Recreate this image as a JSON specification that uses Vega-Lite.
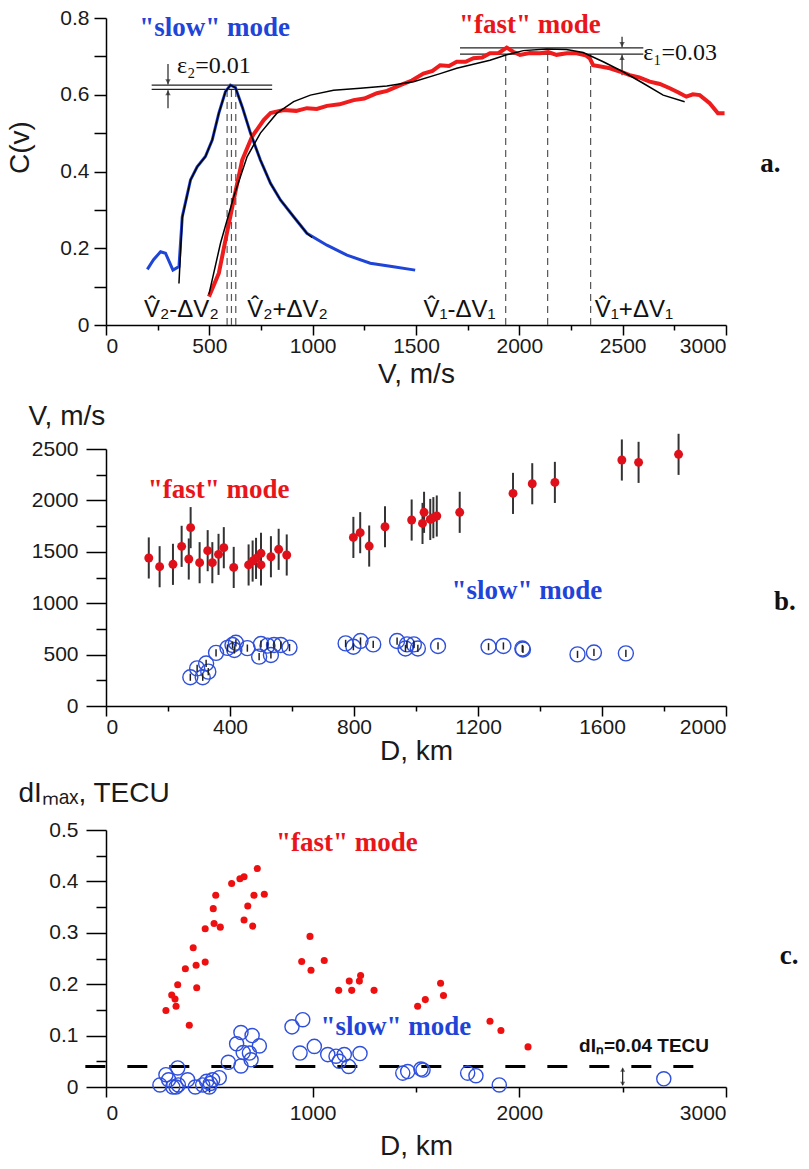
{
  "$schema": "https://vega.github.io/schema/vega-lite/v6.json",
  "padding": {"left": 6, "top": 7, "right": 0, "bottom": 0},
  "background": "white",
  "config": {
    "view": {"stroke": null},
    "axis": {"domainColor": "#000", "tickColor": "#000", "labelColor": "#1a1a1a", "titleColor": "#1a1a1a", "labelFont": "Liberation Sans", "titleFont": "Liberation Sans", "labelFontSize": 21, "titleFontSize": 28, "titleFontWeight": "normal", "grid": false, "domainWidth": 1.5, "tickWidth": 1.5}
  },
  "spacing": 124,
  "bounds": "flush",
  "vconcat": [
    {
      "width": 620, "height": 307,
      "encoding": {
        "x": {"field": "V", "type": "quantitative", "scale": {"domain": [0, 3000], "nice": false, "zero": false},
          "axis": {"title": "V, m/s", "values": [0,250,500,750,1000,1250,1500,1750,2000,2250,2500,2750,3000], "format": "d", "labelExpr": "datum.value % 500 === 0 ? datum.label : ''", "tickSize": {"condition": {"test": "datum.value % 500 === 0", "value": 10}, "value": 5}, "labelPadding": 0, "titleY": 57, "titleBaseline": "alphabetic"}},
        "y": {"field": "C", "type": "quantitative", "scale": {"domain": [0, 0.8], "nice": false},
          "axis": {"title": "C(v)", "values": [0,0.1,0.2,0.3,0.4,0.5,0.6,0.7,0.8], "labelExpr": "round(datum.value*10) % 2 === 0 ? (datum.value === 0 ? '0' : format(datum.value, '.1f')) : ''", "tickSize": 12, "labelPadding": 5, "titleX": -72, "titleY": 129}}
      },
      "layer": [
        {
          "data": {"values": [
            {"V": 586, "C": 0, "C2": 0.62}, {"V": 607, "C": 0, "C2": 0.62}, {"V": 628, "C": 0, "C2": 0.62},
            {"V": 1934, "C": 0, "C2": 0.706}, {"V": 2137, "C": 0, "C2": 0.706}, {"V": 2345, "C": 0, "C2": 0.706}
          ]},
          "mark": {"type": "rule", "color": "#555", "strokeDash": [7, 5], "strokeWidth": 1.2},
          "encoding": {"y2": {"field": "C2"}}
        },
        {
          "data": {"values": [
            {"V": 221, "V2": 804, "C": 0.625}, {"V": 221, "V2": 804, "C": 0.614},
            {"V": 1713, "V2": 2600, "C": 0.722}, {"V": 1713, "V2": 2600, "C": 0.706}
          ]},
          "mark": {"type": "rule", "color": "#222", "strokeWidth": 1.2},
          "encoding": {"x2": {"field": "V2"}}
        },
        {
          "data": {"values": [
            {"V": 300, "C": 0.68, "C2": 0.627}, {"V": 300, "C": 0.565, "C2": 0.612},
            {"V": 2497, "C": 0.751, "C2": 0.724}, {"V": 2497, "C": 0.651, "C2": 0.704}
          ]},
          "mark": {"type": "rule", "color": "#222", "strokeWidth": 1.2},
          "encoding": {"y2": {"field": "C2"}}
        },
        {
          "data": {"values": [
            {"V": 300, "C": 0.634, "s": "triangle-down"}, {"V": 300, "C": 0.605, "s": "triangle-up"},
            {"V": 2497, "C": 0.731, "s": "triangle-down"}, {"V": 2497, "C": 0.697, "s": "triangle-up"}
          ]},
          "mark": {"type": "point", "filled": true, "color": "#222", "size": 30},
          "encoding": {"shape": {"field": "s", "type": "nominal", "scale": null}}
        },
        {
          "data": {"values": [
            {"V":200,"C":0.145},{"V":230,"C":0.17},{"V":264,"C":0.191},{"V":288,"C":0.187},{"V":324,"C":0.143},{"V":353,"C":0.152},{"V":369,"C":0.282},{"V":409,"C":0.378},{"V":441,"C":0.412},{"V":481,"C":0.439},{"V":514,"C":0.482},{"V":546,"C":0.552},{"V":578,"C":0.608},{"V":602,"C":0.625},{"V":626,"C":0.619},{"V":659,"C":0.569},{"V":699,"C":0.5},{"V":747,"C":0.43},{"V":796,"C":0.369},{"V":844,"C":0.326},{"V":908,"C":0.282},{"V":972,"C":0.239},{"V":1069,"C":0.208},{"V":1166,"C":0.182},{"V":1279,"C":0.161},{"V":1391,"C":0.152},{"V":1496,"C":0.143}
          ]},
          "mark": {"type": "line", "color": "#1f45d8", "strokeWidth": 3}
        },
        {
          "data": {"values": [
            {"V":498,"C":0.074},{"V":546,"C":0.135},{"V":578,"C":0.221},{"V":618,"C":0.326},{"V":659,"C":0.43},{"V":707,"C":0.491},{"V":763,"C":0.534},{"V":796,"C":0.552},{"V":860,"C":0.56},{"V":920,"C":0.558},{"V":972,"C":0.565},{"V":1020,"C":0.563},{"V":1069,"C":0.571},{"V":1130,"C":0.575},{"V":1198,"C":0.586},{"V":1250,"C":0.59},{"V":1311,"C":0.604},{"V":1360,"C":0.61},{"V":1424,"C":0.625},{"V":1480,"C":0.637},{"V":1536,"C":0.655},{"V":1580,"C":0.662},{"V":1617,"C":0.677},{"V":1660,"C":0.675},{"V":1697,"C":0.686},{"V":1740,"C":0.686},{"V":1778,"C":0.695},{"V":1820,"C":0.697},{"V":1858,"C":0.708},{"V":1900,"C":0.709},{"V":1939,"C":0.723},{"V":1970,"C":0.712},{"V":2003,"C":0.704},{"V":2050,"C":0.709},{"V":2100,"C":0.708},{"V":2140,"C":0.711},{"V":2180,"C":0.704},{"V":2230,"C":0.708},{"V":2277,"C":0.708},{"V":2320,"C":0.703},{"V":2341,"C":0.695},{"V":2357,"C":0.677},{"V":2400,"C":0.673},{"V":2438,"C":0.669},{"V":2490,"C":0.66},{"V":2534,"C":0.651},{"V":2580,"C":0.645},{"V":2631,"C":0.634},{"V":2680,"C":0.628},{"V":2728,"C":0.617},{"V":2770,"C":0.606},{"V":2808,"C":0.595},{"V":2840,"C":0.601},{"V":2873,"C":0.599},{"V":2921,"C":0.578},{"V":2961,"C":0.552},{"V":2993,"C":0.552}
          ]},
          "mark": {"type": "line", "color": "#ee1c1c", "strokeWidth": 4}
        },
        {
          "data": {"values": [
            {"k":"s","V":353,"C":0.108},{"k":"s","V":369,"C":0.28},{"k":"s","V":409,"C":0.378},{"k":"s","V":441,"C":0.412},{"k":"s","V":481,"C":0.439},{"k":"s","V":514,"C":0.482},{"k":"s","V":546,"C":0.552},{"k":"s","V":578,"C":0.608},{"k":"s","V":602,"C":0.625},{"k":"s","V":626,"C":0.619},{"k":"s","V":659,"C":0.569},{"k":"s","V":699,"C":0.5},{"k":"s","V":747,"C":0.43},{"k":"s","V":796,"C":0.369},{"k":"s","V":844,"C":0.326},{"k":"s","V":908,"C":0.282},{"k":"s","V":972,"C":0.239},{"k":"s","V":997,"C":0.228},
            {"k":"f","V":498,"C":0.08},{"k":"f","V":554,"C":0.213},{"k":"f","V":618,"C":0.334},{"k":"f","V":683,"C":0.439},{"k":"f","V":747,"C":0.5},{"k":"f","V":827,"C":0.552},{"k":"f","V":908,"C":0.582},{"k":"f","V":989,"C":0.599},{"k":"f","V":1101,"C":0.612},{"k":"f","V":1230,"C":0.617},{"k":"f","V":1359,"C":0.623},{"k":"f","V":1488,"C":0.634},{"k":"f","V":1617,"C":0.655},{"k":"f","V":1697,"C":0.669},{"k":"f","V":1858,"C":0.69},{"k":"f","V":1939,"C":0.704},{"k":"f","V":2019,"C":0.715},{"k":"f","V":2132,"C":0.719},{"k":"f","V":2228,"C":0.718},{"k":"f","V":2309,"C":0.71},{"k":"f","V":2406,"C":0.686},{"k":"f","V":2502,"C":0.66},{"k":"f","V":2599,"C":0.63},{"k":"f","V":2696,"C":0.599},{"k":"f","V":2800,"C":0.582}
          ]},
          "mark": {"type": "line", "color": "#000", "strokeWidth": 1.5},
          "encoding": {"detail": {"field": "k"}}
        },
        {
          "data": {"values": [
            {"V": 184, "C": 0.021, "t": "V\u0302\u2082-\u0394V\u2082"},
            {"V": 683, "C": 0.021, "t": "V\u0302\u2082+\u0394V\u2082"},
            {"V": 1536, "C": 0.021, "t": "V\u0302\u2081-\u0394V\u2081"},
            {"V": 2365, "C": 0.021, "t": "V\u0302\u2081+\u0394V\u2081"}
          ]},
          "mark": {"type": "text", "align": "left", "baseline": "alphabetic", "font": "Liberation Sans", "fontSize": 24, "color": "#111"},
          "encoding": {"text": {"field": "t"}}
        },
        {
          "data": {"values": [
            {"V": 343, "C": 0.656, "t": "\u03b5\u2082=0.01"},
            {"V": 2599, "C": 0.69, "t": "\u03b5\u2081=0.03"}
          ]},
          "mark": {"type": "text", "align": "left", "baseline": "alphabetic", "font": "Liberation Serif", "fontSize": 24, "color": "#111"},
          "encoding": {"text": {"field": "t"}}
        },
        {
          "data": {"values": [
            {"V": 526, "C": 0.753, "t": "\"slow\" mode", "c": "#1f45d8"},
            {"V": 2051, "C": 0.762, "t": "\"fast\" mode", "c": "#e8151b"},
            {"V": 3215, "C": 0.4, "t": "a.", "c": "#111"}
          ]},
          "mark": {"type": "text", "align": "center", "baseline": "alphabetic", "font": "Liberation Serif", "fontWeight": "bold", "fontSize": 27},
          "encoding": {"text": {"field": "t"}, "color": {"field": "c", "type": "nominal", "scale": null}}
        }
      ]
    },
    {
      "width": 620, "height": 257,
      "encoding": {
        "x": {"field": "D", "type": "quantitative", "scale": {"domain": [0, 2000], "nice": false, "zero": false},
          "axis": {"title": "D, km", "values": [0,200,400,600,800,1000,1200,1400,1600,1800,2000], "format": "d", "labelExpr": "datum.value % 400 === 0 ? datum.label : ''", "tickSize": {"condition": {"test": "datum.value % 400 === 0", "value": 10}, "value": 5}, "labelPadding": 0, "titleY": 53, "titleBaseline": "alphabetic"}},
        "y": {"field": "v", "type": "quantitative", "scale": {"domain": [0, 2500], "nice": false},
          "axis": {"title": "V, m/s", "values": [0,250,500,750,1000,1250,1500,1750,2000,2250,2500], "format": "d", "labelExpr": "datum.value % 500 === 0 ? datum.label : ''", "tickSize": {"condition": {"test": "datum.value % 500 === 0", "value": 20}, "value": 10}, "labelPadding": 8, "titleAngle": 0, "titleAlign": "left", "titleBaseline": "alphabetic", "titleX": -78, "titleY": -25}}
      },
      "layer": [
        {
          "data": {"name": "fastB"},
          "mark": {"type": "errorbar", "ticks": false, "color": "#333", "thickness": 2},
          "encoding": {"yError": {"field": "e"}}
        },
        {
          "data": {"name": "fastB"},
          "mark": {"type": "point", "filled": true, "color": "#e0101a", "size": 80, "opacity": 1}
        },
        {
          "data": {"name": "slowB"},
          "mark": {"type": "point", "filled": false, "color": "#3050d8", "size": 225, "strokeWidth": 1.4, "opacity": 1}
        },
        {
          "data": {"name": "slowB"},
          "mark": {"type": "errorbar", "ticks": false, "color": "#222", "thickness": 1.5},
          "encoding": {"yError": {"field": "e"}}
        },
        {
          "data": {"values": [
            {"D": 363, "v": 2026, "t": "\"fast\" mode", "c": "#e8151b"},
            {"D": 1358, "v": 1037, "t": "\"slow\" mode", "c": "#1f45d8"},
            {"D": 2190, "v": 930, "t": "b.", "c": "#111"}
          ]},
          "mark": {"type": "text", "align": "center", "baseline": "alphabetic", "font": "Liberation Serif", "fontWeight": "bold", "fontSize": 27},
          "encoding": {"text": {"field": "t"}, "color": {"field": "c", "type": "nominal", "scale": null}}
        }
      ]
    },
    {
      "width": 620, "height": 257,
      "encoding": {
        "x": {"field": "D", "type": "quantitative", "scale": {"domain": [0, 3000], "nice": false, "zero": false},
          "axis": {"title": "D, km", "values": [0,500,1000,1500,2000,2500,3000], "format": "d", "labelExpr": "datum.value % 1000 === 0 ? datum.label : ''", "tickSize": {"condition": {"test": "datum.value % 1000 === 0", "value": 10}, "value": 5}, "labelPadding": 5, "titleY": 67, "titleBaseline": "alphabetic"}},
        "y": {"field": "I", "type": "quantitative", "scale": {"domain": [0, 0.5], "nice": false},
          "axis": {"title": "dI\u2098\u2090\u2093, TECU", "values": [0,0.05,0.1,0.15,0.2,0.25,0.3,0.35,0.4,0.45,0.5], "labelExpr": "round(datum.value*100) % 10 === 0 ? (datum.value === 0 ? '0' : format(datum.value, '.1f')) : ''", "tickSize": {"condition": {"test": "round(datum.value*100) % 10 === 0", "value": 20}, "value": 10}, "labelPadding": 8, "titleAngle": 0, "titleAlign": "left", "titleBaseline": "alphabetic", "titleX": -88, "titleY": -29}}
      },
      "layer": [
        {
          "data": {"values": [{"D": -100, "D2": 2900, "I": 0.04}]},
          "mark": {"type": "rule", "color": "#000", "strokeWidth": 3, "strokeDash": [20, 22]},
          "encoding": {"x2": {"field": "D2"}}
        },
        {
          "data": {"values": [{"D": 2500, "I": 0.004, "I2": 0.036}]},
          "mark": {"type": "rule", "color": "#222", "strokeWidth": 1.2},
          "encoding": {"y2": {"field": "I2"}}
        },
        {
          "data": {"values": [{"D": 2500, "I": 0.034, "s": "triangle-up"}, {"D": 2500, "I": 0.006, "s": "triangle-down"}]},
          "mark": {"type": "point", "filled": true, "color": "#222", "size": 25},
          "encoding": {"shape": {"field": "s", "type": "nominal", "scale": null}}
        },
        {
          "data": {"name": "fastC"},
          "mark": {"type": "point", "filled": true, "color": "#ee1010", "size": 50, "opacity": 1}
        },
        {
          "data": {"name": "slowC"},
          "mark": {"type": "point", "filled": false, "color": "#2f50dc", "size": 200, "strokeWidth": 1.4, "opacity": 1}
        },
        {
          "data": {"values": [
            {"D": 1166, "I": 0.459, "t": "\"fast\" mode", "c": "#e8151b"},
            {"D": 1403, "I": 0.102, "t": "\"slow\" mode", "c": "#1f45d8"},
            {"D": 3305, "I": 0.24, "t": "c.", "c": "#111"}
          ]},
          "mark": {"type": "text", "align": "center", "baseline": "alphabetic", "font": "Liberation Serif", "fontWeight": "bold", "fontSize": 27},
          "encoding": {"text": {"field": "t"}, "color": {"field": "c", "type": "nominal", "scale": null}}
        },
        {
          "data": {"values": [{"D": 2289, "I": 0.069, "t": "dI\u2099=0.04 TECU"}]},
          "mark": {"type": "text", "align": "left", "baseline": "alphabetic", "font": "Liberation Sans", "fontWeight": "bold", "fontSize": 19, "color": "#111"},
          "encoding": {"text": {"field": "t"}}
        }
      ]
    }
  ],
  "datasets": {
    "fastB": [
      {"D":138,"v":1440,"e":200},{"D":173,"v":1355,"e":200},{"D":216,"v":1378,"e":200},{"D":244,"v":1553,"e":200},{"D":273,"v":1735,"e":200},{"D":267,"v":1430,"e":200},{"D":302,"v":1394,"e":200},{"D":328,"v":1511,"e":200},{"D":343,"v":1394,"e":200},{"D":363,"v":1475,"e":200},{"D":380,"v":1540,"e":200},{"D":412,"v":1348,"e":200},{"D":460,"v":1372,"e":200},{"D":473,"v":1410,"e":200},{"D":484,"v":1436,"e":200},{"D":500,"v":1485,"e":200},{"D":500,"v":1372,"e":200},{"D":532,"v":1452,"e":200},{"D":557,"v":1524,"e":200},{"D":583,"v":1469,"e":200},{"D":798,"v":1640,"e":200},{"D":820,"v":1686,"e":200},{"D":849,"v":1556,"e":200},{"D":900,"v":1744,"e":200},{"D":986,"v":1809,"e":200},{"D":1021,"v":1776,"e":200},{"D":1026,"v":1884,"e":200},{"D":1046,"v":1815,"e":200},{"D":1056,"v":1832,"e":200},{"D":1067,"v":1848,"e":200},{"D":1141,"v":1884,"e":200},{"D":1313,"v":2068,"e":200},{"D":1375,"v":2162,"e":200},{"D":1448,"v":2175,"e":200},{"D":1664,"v":2393,"e":200},{"D":1718,"v":2370,"e":200},{"D":1847,"v":2448,"e":200}
    ],
    "slowB": [
      {"D":272,"v":280,"e":35},{"D":294,"v":366,"e":35},{"D":312,"v":280,"e":35},{"D":323,"v":414,"e":35},{"D":330,"v":334,"e":35},{"D":355,"v":517,"e":35},{"D":392,"v":565,"e":35},{"D":408,"v":593,"e":35},{"D":419,"v":615,"e":35},{"D":414,"v":545,"e":35},{"D":456,"v":563,"e":35},{"D":500,"v":603,"e":35},{"D":494,"v":480,"e":35},{"D":521,"v":587,"e":35},{"D":532,"v":496,"e":35},{"D":542,"v":593,"e":35},{"D":564,"v":593,"e":35},{"D":592,"v":568,"e":35},{"D":773,"v":609,"e":35},{"D":798,"v":577,"e":35},{"D":821,"v":632,"e":35},{"D":862,"v":599,"e":35},{"D":939,"v":632,"e":35},{"D":966,"v":560,"e":35},{"D":971,"v":599,"e":35},{"D":993,"v":599,"e":35},{"D":1006,"v":560,"e":35},{"D":1071,"v":584,"e":35},{"D":1234,"v":577,"e":35},{"D":1282,"v":584,"e":35},{"D":1343,"v":560,"e":35},{"D":1345,"v":550,"e":35},{"D":1521,"v":502,"e":35},{"D":1574,"v":521,"e":35},{"D":1677,"v":512,"e":35}
    ],
    "fastC": [
      {"D":290,"I":0.149},{"D":318,"I":0.179},{"D":334,"I":0.171},{"D":339,"I":0.157},{"D":347,"I":0.199},{"D":403,"I":0.12},{"D":384,"I":0.23},{"D":422,"I":0.271},{"D":436,"I":0.237},{"D":439,"I":0.193},{"D":480,"I":0.243},{"D":480,"I":0.308},{"D":519,"I":0.347},{"D":531,"I":0.373},{"D":523,"I":0.318},{"D":553,"I":0.311},{"D":608,"I":0.396},{"D":648,"I":0.405},{"D":668,"I":0.409},{"D":732,"I":0.425},{"D":668,"I":0.325},{"D":686,"I":0.352},{"D":710,"I":0.313},{"D":716,"I":0.373},{"D":766,"I":0.375},{"D":987,"I":0.293},{"D":947,"I":0.244},{"D":992,"I":0.227},{"D":1056,"I":0.246},{"D":1126,"I":0.188},{"D":1177,"I":0.206},{"D":1189,"I":0.188},{"D":1226,"I":0.206},{"D":1232,"I":0.217},{"D":1297,"I":0.188},{"D":1508,"I":0.157},{"D":1545,"I":0.17},{"D":1619,"I":0.202},{"D":1633,"I":0.178},{"D":1858,"I":0.128},{"D":1911,"I":0.11},{"D":2042,"I":0.078}
    ],
    "slowC": [
      {"D":261,"I":0.004},{"D":290,"I":0.024},{"D":303,"I":0.014},{"D":347,"I":0.037},{"D":323,"I":0.0},{"D":339,"I":0.0},{"D":350,"I":0.004},{"D":395,"I":0.014},{"D":432,"I":0.0},{"D":468,"I":0.004},{"D":487,"I":0.011},{"D":500,"I":0.0},{"D":505,"I":0.007},{"D":516,"I":0.014},{"D":548,"I":0.018},{"D":592,"I":0.048},{"D":653,"I":0.041},{"D":632,"I":0.084},{"D":653,"I":0.106},{"D":707,"I":0.1},{"D":664,"I":0.067},{"D":694,"I":0.066},{"D":702,"I":0.053},{"D":742,"I":0.08},{"D":900,"I":0.117},{"D":952,"I":0.131},{"D":939,"I":0.066},{"D":1008,"I":0.079},{"D":1073,"I":0.063},{"D":1113,"I":0.06},{"D":1129,"I":0.05},{"D":1153,"I":0.063},{"D":1174,"I":0.04},{"D":1229,"I":0.065},{"D":1436,"I":0.027},{"D":1460,"I":0.03},{"D":1524,"I":0.035},{"D":1534,"I":0.033},{"D":1750,"I":0.027},{"D":1790,"I":0.022},{"D":1903,"I":0.004},{"D":2699,"I":0.016}
    ]
  }
}
